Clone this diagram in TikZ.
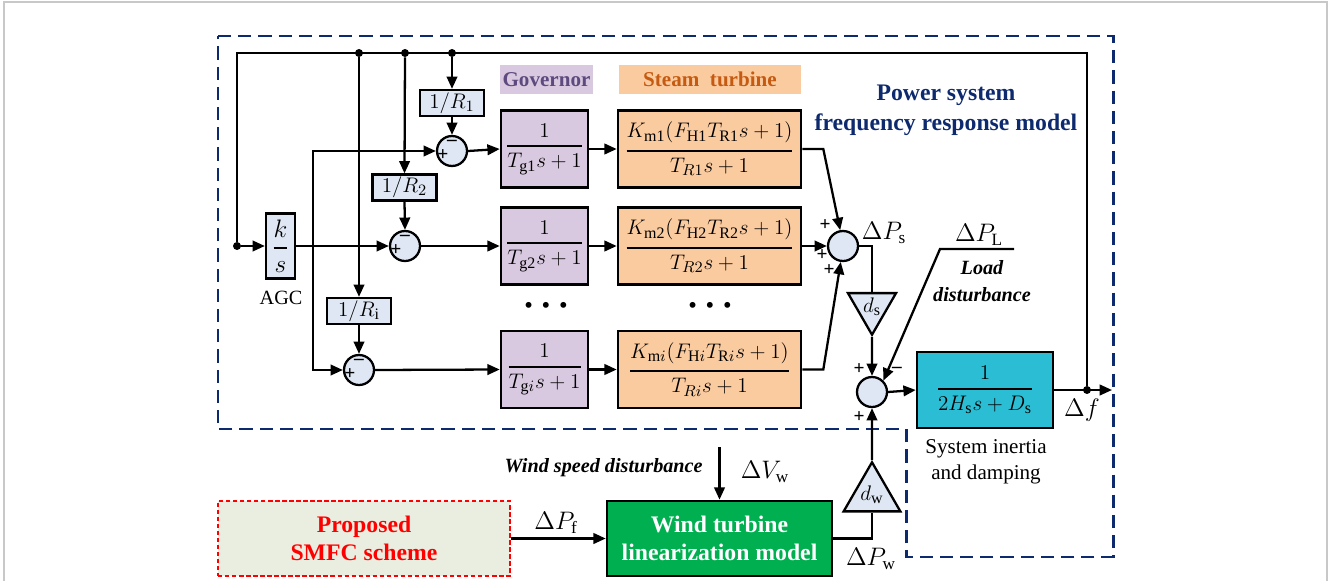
\documentclass[tikz,border=0pt]{standalone}
\usepackage{fontspec}
\usepackage{amsmath}
\setmainfont{Liberation Serif}
\usetikzlibrary{arrows.meta,positioning,shapes.geometric}
\definecolor{GovFill}     {HTML}{D9C9E0}
\definecolor{GovText}     {HTML}{5E4A7E}
\definecolor{TurbFill}    {HTML}{FBCBA0}
\definecolor{TurbText}    {HTML}{C55A11}
\definecolor{GainFill}    {HTML}{DEE7F3}
\definecolor{InertFill}   {HTML}{2ABDD3}
\definecolor{WindGreen}   {HTML}{00B050}
\definecolor{SchemeFill}  {HTML}{E9EEE0}
\definecolor{NavyLine}    {HTML}{0E2A6E}
\definecolor{FrameGray}   {HTML}{C8C8C8}
\newcommand{\bfrac}[2]{\genfrac{}{}{1.2pt}{0}{#1}{#2}}
\tikzset{
  wire/.style={line width=1.3pt},
  arr/.style={wire,-{Triangle[length=7pt,width=6pt]}},
  blk/.style={draw,line width=1.5pt,inner sep=0pt,minimum height=1.54cm,
              font=\fontsize{13}{15}\selectfont},
  govblk/.style={blk,fill=GovFill,minimum width=1.74cm},
  turbblk/.style={blk,fill=TurbFill,minimum width=3.66cm},
  gain/.style={draw,line width=1.3pt,fill=GainFill,inner sep=0pt,
               minimum width=1.28cm,minimum height=0.52cm,font=\fontsize{13}{15}\selectfont},
  summer/.style={circle,draw,line width=1.3pt,fill=GainFill,minimum size=0.6cm,inner sep=0pt},
  tri/.style={regular polygon,regular polygon sides=3,draw,line width=1.3pt,
              fill=GainFill,inner sep=0pt,font=\fontsize{13}{15}\selectfont},
  jdot/.style={circle,fill,inner sep=0pt,minimum size=0.16cm},
  sgn/.style={inner sep=0pt,font=\bfseries\fontsize{11}{11}\selectfont},
  lab/.style={inner sep=0pt,font=\fontsize{14}{16}\selectfont},
  tag/.style={inner sep=0pt,minimum width=1.86cm,minimum height=0.58cm,
              font=\bfseries\fontsize{12}{14}\selectfont},
  note/.style={inner sep=0pt,align=center,font=\bfseries\itshape\fontsize{11.5}{15}\selectfont}
}
\begin{document}
\begin{tikzpicture}[x=0.02cm,y=-0.02cm]
    \useasboundingbox (0,0) rectangle (1328,581);
    \draw[FrameGray,line width=0.8pt] (4,581) -- (4,2) -- (1327,2) -- (1327,581);
    % frequency response model frame
    \draw[NavyLine,line width=1.7pt,dash pattern=on 7.5pt off 4pt]
      (218,36) -- (1113,36) -- (1113,557) -- (906,557) -- (906,429) -- (218,429) -- cycle;
    \node[NavyLine,align=center,font=\bfseries\fontsize{13.5}{17}\selectfont] (psys) at (946,110)
      {Power system\\frequency response model};

    \node[tag,fill=GovFill,text=GovText] (govtag) at (546.5,79.5) {Governor};
    \node[tag,fill=TurbFill,text=TurbText,minimum width=3.64cm] (turbtag) at (710,79.5) {Steam\ \ turbine};

    \node[draw,line width=1.3pt,fill=GainFill,inner sep=0pt,minimum width=0.58cm,
          minimum height=1.3cm,font=\fontsize{14}{16}\selectfont] (ks) at (280.5,246) {$\bfrac{k}{s}$};
    \node[inner sep=0pt,font=\fontsize{11.5}{13}\selectfont] (agc) at (281,298) {AGC};

    \node[gain] (r1) at (452,103) {$1/R_1$};
    \node[gain] (r2) at (404.5,187.5) {$1/R_2$};
    \node[gain] (ri) at (359,311) {$1/R_{\mathrm{i}}$};

    \node[summer] (sum1) at (452,151) {};
    \node[summer] (sum2) at (405,246) {};
    \node[summer] (sum3) at (359,370) {};

    \node[govblk] (gov1) at (544.5,149) {$\bfrac{1}{T_{\mathrm{g1}}s+1}$};
    \node[govblk] (gov2) at (544.5,246) {$\bfrac{1}{T_{\mathrm{g2}}s+1}$};
    \node[govblk] (gov3) at (544.5,369.5) {$\bfrac{1}{T_{\mathrm{g}i}s+1}$};

    \node[turbblk] (turb1) at (709.5,149)
      {$\bfrac{K_{\mathrm{m1}}(F_{\mathrm{H1}}T_{\mathrm{R1}}s+1)}{T_{R1}s+1}$};
    \node[turbblk] (turb2) at (709.5,246)
      {$\bfrac{K_{\mathrm{m2}}(F_{\mathrm{H2}}T_{\mathrm{R2}}s+1)}{T_{R2}s+1}$};
    \node[turbblk] (turb3) at (709.5,369.5)
      {$\bfrac{K_{\mathrm{m}i}(F_{\mathrm{H}i}T_{\mathrm{R}i}s+1)}{T_{Ri}s+1}$};

    \node[inner sep=0pt,font=\fontsize{14}{14}\selectfont] (gdots) at (546,308)
      {\textbullet\hspace{5pt}\textbullet\hspace{5pt}\textbullet};
    \node[inner sep=0pt,font=\fontsize{14}{14}\selectfont] (tdots) at (710,308)
      {\textbullet\hspace{5pt}\textbullet\hspace{5pt}\textbullet};

    \node[summer] (sum4) at (843,246) {};
    \node[lab] (dps) at (884,233) {$\Delta P_{\mathrm{s}}$};
    \node[tri,shape border rotate=180,minimum size=1.11cm] (ds) at (872,307) {$d_{\mathrm{s}}$};
    \node[summer] (sum5) at (872,392) {};

    \coordinate (pl1) at (1014,249);
    \coordinate (pl2) at (940,249);
    \node[lab] (dpl) at (979,235) {$\Delta P_{\mathrm{L}}$};
    \node[note] (loadlab) at (982,281) {Load\\disturbance};

    \node[draw,line width=1.5pt,fill=InertFill,inner sep=0pt,minimum width=2.72cm,
          minimum height=1.52cm,font=\fontsize{13}{15}\selectfont] (inert) at (985,390)
      {$\bfrac{1}{2H_{\mathrm{s}}s+D_{\mathrm{s}}}$};
    \node[jdot] (jf) at (1087,390) {};
    \coordinate (out) at (1112,390);
    \node[lab] (df) at (1082,410) {$\Delta f$};
    \node[align=center,inner sep=0pt,font=\fontsize{12}{15}\selectfont] (inertlab) at (986,462)
      {System inertia\\and damping};

    \node[tri,minimum size=1.2cm] (dw) at (872,495) {$d_{\mathrm{w}}$};
    \node[lab] (dpw) at (871,559) {$\Delta P_{\mathrm{w}}$};

    \node[draw,line width=1.5pt,fill=WindGreen,text=white,align=center,inner sep=0pt,
          minimum width=4.5cm,minimum height=1.5cm,font=\bfseries\fontsize{13.5}{16}\selectfont]
      (wind) at (719.5,538.5) {Wind turbine\\linearization model};
    \coordinate (vw) at (719.5,447);
    \node[lab] (dvw) at (765,472) {$\Delta V_{\mathrm{w}}$};
    \node[note,anchor=east] (windlab) at (703,468) {Wind speed disturbance};

    \node[draw=red,line width=1.4pt,dash pattern=on 2.5pt off 1.5pt,fill=SchemeFill,text=red,
          align=center,inner sep=0pt,minimum width=5.84cm,minimum height=1.5cm,
          font=\bfseries\fontsize{13.5}{16}\selectfont] (smfc) at (364,538.5) {Proposed\\SMFC scheme};
    \node[lab] (dpf) at (556,523) {$\Delta P_{\mathrm{f}}$};

    % feedback of the frequency deviation
    \coordinate (fbr) at (1087,53);
    \coordinate (fbl) at (237,53);
    \node[jdot] (jl) at (237,246) {};
    \node[jdot] (j1) at (359,53) {};
    \node[jdot] (j2) at (405,53) {};
    \node[jdot] (j3) at (452,53) {};
    \draw[wire] (jf) -- (fbr) -- (fbl) -- (jl);
    \draw[arr] (jl) -- (ks.west);
    \draw[arr] (j3) -- (r1.north);
    \draw[arr] (r1.south) -- (sum1.north);
    \draw[arr] (j2) -- (r2.north);
    \draw[arr] (r2.south) -- (sum2.north);
    \draw[arr] (j1) -- (ri.north);
    \draw[arr] (ri.south) -- (sum3.north);

    \coordinate (split) at (313,246);
    \draw[arr] (ks.east) -- (sum2.west);
    \draw[arr] (split) |- (sum1.west);
    \draw[arr] (split) |- (sum3.west);

    \draw[arr] (sum1.east) -- (gov1.west);
    \draw[arr] (sum2.east) -- (gov2.west);
    \draw[arr] (sum3.east) -- (gov3.west);
    \draw[arr] (gov1.east) -- (turb1.west);
    \draw[arr] (gov2.east) -- (turb2.west);
    \draw[arr] (gov3.east) -- (turb3.west);

    \draw[arr] (turb1.east) -- ++(21,0) -- (sum4.100);
    \draw[arr] (turb2.east) -- (sum4.west);
    \draw[arr] (turb3.east) -- ++(21,0) -- (sum4.262);
    \draw[wire] (sum4.east) -| (ds.north);
    \draw[arr] (ds.south) -- (sum5.north);
    \draw[arr] (pl1) -- (pl2) -- (sum5.north east);
    \draw[arr] (sum5.east) -- (inert.west);
    \draw[arr] (inert.east) -- (out);
    \draw[arr] (dw.north) -- (sum5.south);
    \draw[wire] (wind.east) -| (dw.south);
    \draw[arr] (vw) -- (wind.north);
    \draw[arr] (smfc.east) -- (wind.west);

    % signs at the summing points
    \node[sgn] at ([shift={(-9,4)}]sum1.center) {+};
    \node[sgn] at ([shift={(0,-8)}]sum1.center) {--};
    \node[sgn] at ([shift={(-9,4)}]sum2.center) {+};
    \node[sgn] at ([shift={(0,-8)}]sum2.center) {--};
    \node[sgn] at ([shift={(-9,4)}]sum3.center) {+};
    \node[sgn] at ([shift={(0,-8)}]sum3.center) {--};
    \node[sgn] at (825,225) {+};
    \node[sgn] at (822,255) {+};
    \node[sgn] at (829,270) {+};
    \node[sgn] at (859,369) {+};
    \node[sgn] at (897,370) {--};
    \node[sgn] at (859,417) {+};
  \end{tikzpicture}
\end{document}
